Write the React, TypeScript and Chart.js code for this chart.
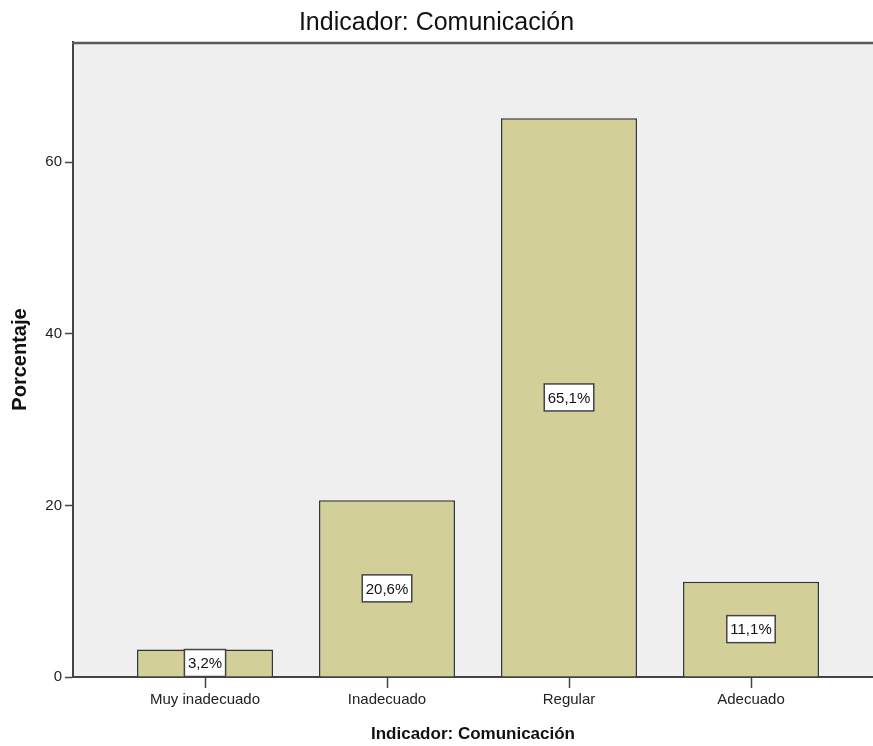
import React, { useEffect, useRef } from 'react';
import { Chart, registerables } from 'chart.js';

Chart.register(...registerables);

const categories = ['Muy inadecuado', 'Inadecuado', 'Regular', 'Adecuado'];
const percentages = [3.2, 20.6, 65.1, 11.1];
const yTickValues = [0, 20, 40, 60];
const chartTitle = 'Indicador: Comunicación';
const xAxisTitle = 'Indicador: Comunicación';
const yAxisTitle = 'Porcentaje';

const FONT = "'Liberation Sans', Arial, Helvetica, sans-serif";

const formatPct = (v: number) => v.toFixed(1).replace('.', ',') + '%';

const plotFrame = {
  id: 'plotFrame',
  beforeDraw(chart: any) {
    const { ctx, chartArea } = chart;
    ctx.save();
    ctx.fillStyle = '#EFEFEF';
    ctx.fillRect(chartArea.left, chartArea.top, chartArea.right - chartArea.left, chartArea.bottom - chartArea.top);
    ctx.restore();
  },
  afterDraw(chart: any) {
    const { ctx, chartArea } = chart;
    ctx.save();
    ctx.strokeStyle = '#5a5a5a';
    ctx.lineWidth = 2.5;
    ctx.beginPath();
    ctx.moveTo(chartArea.left - 1, chartArea.top + 1);
    ctx.lineTo(chartArea.right, chartArea.top + 1);
    ctx.stroke();
    ctx.restore();
  },
};

const barValueLabels = {
  id: 'barValueLabels',
  afterDatasetsDraw(chart: any) {
    const { ctx } = chart;
    const meta = chart.getDatasetMeta(0);
    ctx.save();
    ctx.font = `15px ${FONT}`;
    ctx.textAlign = 'center';
    ctx.textBaseline = 'middle';
    meta.data.forEach((bar: any, i: number) => {
      const { x, y, base } = bar.getProps(['x', 'y', 'base'], true);
      const text = formatPct(percentages[i]);
      const w = ctx.measureText(text).width + 7;
      const h = 27;
      const cy = (y + base) / 2;
      ctx.fillStyle = '#ffffff';
      ctx.fillRect(x - w / 2, cy - h / 2, w, h);
      ctx.strokeStyle = '#444444';
      ctx.lineWidth = 1.5;
      ctx.strokeRect(x - w / 2, cy - h / 2, w, h);
      ctx.fillStyle = '#111111';
      ctx.fillText(text, x, cy + 1);
    });
    ctx.restore();
  },
};

export default function App() {
  const canvasRef = useRef<HTMLCanvasElement | null>(null);

  useEffect(() => {
    if (!canvasRef.current) return;
    Chart.defaults.font.family = FONT;
    const chart = new Chart(canvasRef.current, {
      type: 'bar',
      data: {
        datasets: [
          {
            data: percentages.map((v, i) => ({ x: i, y: v })),
            backgroundColor: '#D3CF98',
            borderColor: '#333333',
            borderWidth: 1.5,
            categoryPercentage: 1,
            barPercentage: 0.747,
          },
        ],
      },
      options: {
        responsive: false,
        animation: false,
        devicePixelRatio: 1,
        layout: { padding: 0 },
        plugins: {
          legend: { display: false },
          tooltip: { enabled: false },
          title: {
            display: true,
            text: chartTitle,
            color: '#111111',
            font: { size: 25, weight: 'normal', family: FONT },
            padding: { top: 8, bottom: 4 },
          },
        },
        scales: {
          x: {
            type: 'linear',
            offset: false,
            min: -0.7253,
            max: 3.6703,
            afterFit(scale: any) {
              scale.height = 69;
            },
            afterBuildTicks(scale: any) {
              scale.ticks = categories.map((_, i) => ({ value: i }));
            },
            ticks: {
              autoSkip: false,
              maxRotation: 0,
              padding: 3,
              color: '#222222',
              font: { size: 15, family: FONT },
              callback: (v: any) => categories[Number(v)] ?? '',
            },
            grid: {
              offset: false,
              drawOnChartArea: false,
              drawTicks: true,
              tickLength: 11,
              tickColor: '#444444',
              tickWidth: 1.5,
            },
            border: { display: true, color: '#444444', width: 2 },
            title: {
              display: true,
              text: xAxisTitle,
              color: '#111111',
              font: { size: 17, weight: 'bold', family: FONT },
              padding: { top: 0, bottom: 1 },
            },
          },
          y: {
            type: 'linear',
            min: 0,
            max: 74,
            afterFit(scale: any) {
              scale.width = 73;
            },
            afterBuildTicks(scale: any) {
              scale.ticks = yTickValues.map((v) => ({ value: v }));
            },
            ticks: {
              padding: 3,
              color: '#222222',
              font: { size: 15, family: FONT },
            },
            grid: {
              drawOnChartArea: false,
              drawTicks: true,
              tickLength: 8,
              tickColor: '#444444',
              tickWidth: 1.5,
            },
            border: { display: true, color: '#444444', width: 2 },
            title: {
              display: true,
              text: yAxisTitle,
              color: '#111111',
              font: { size: 20, weight: 'bold', family: FONT },
              padding: { top: 8.5, bottom: 0 },
            },
          },
        },
      },
      plugins: [plotFrame, barValueLabels],
    } as any);
    return () => chart.destroy();
  }, []);

  return (
    <div style={{ position: 'fixed', left: 0, top: 0, width: 873, height: 746, background: '#ffffff' }}>
      <canvas ref={canvasRef} width={873} height={746} style={{ display: 'block', width: 873, height: 746 }} />
    </div>
  );
}
